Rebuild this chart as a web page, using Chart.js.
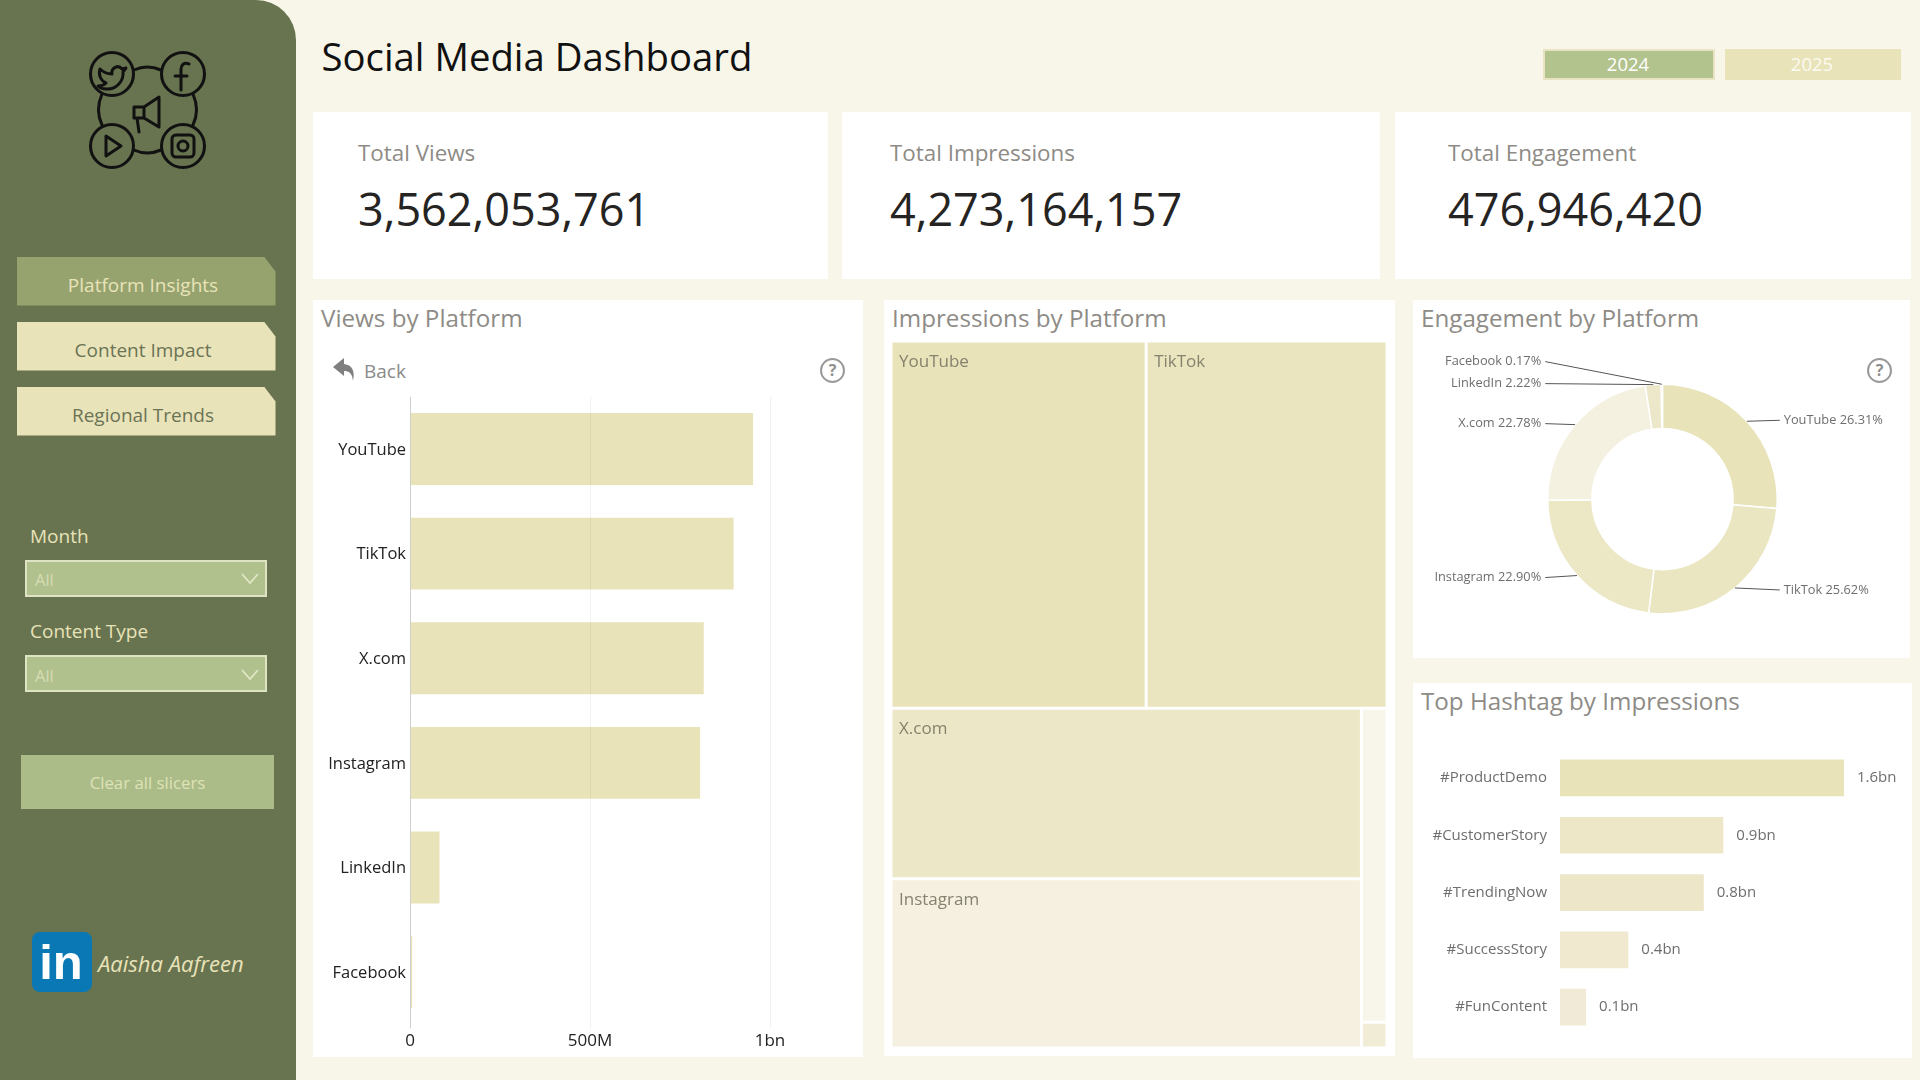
<!DOCTYPE html>
<html><head><meta charset="utf-8">
<script src="https://cdn.jsdelivr.net/npm/chart.js@4"></script>
<style>
html,body{margin:0;padding:0;width:1920px;height:1080px;overflow:hidden;background:#F8F6E9;font-family:"Open Sans",sans-serif}
.a{position:absolute}
.t{position:absolute;white-space:nowrap;line-height:1;transform:translateY(-50%)}
.c{transform:translate(-50%,-50%)}
canvas{position:absolute;display:block}
.card{position:absolute;background:#fff}
.ptitle{color:#8E8B86;font-size:24.2px}
.klabel{color:#8E8B86;font-size:22.4px}
.kval{color:#252423;font-size:45px}
.nav{position:absolute;left:17px;width:258.5px;height:49px;clip-path:polygon(0 0,247px 0,258.5px 15px,258.5px 49px,0 49px)}
.drop{position:absolute;left:25px;width:238px;height:33px;background:#B1C18D;border:2.5px solid #DDE3C3}
.q{position:absolute;width:21px;height:21px;border:2.5px solid #9a9a9a;border-radius:50%;color:#8f8f8f;font-size:16px;font-weight:700;text-align:center;line-height:21px}
</style></head><body>

<div class="a" style="left:0;top:0;width:296px;height:1080px;background:#68734F;border-top-right-radius:40px"></div>

<svg class="a" style="left:80px;top:45px" width="135" height="135" viewBox="0 0 135 135" fill="none" stroke="#111" stroke-width="3" stroke-linecap="round" stroke-linejoin="round">
<circle cx="32" cy="29" r="21.5"/><circle cx="103" cy="29" r="21.5"/><circle cx="32" cy="101" r="21.5"/><circle cx="103" cy="101" r="21.5"/>
<path d="M54 25Q67 19 81 25M54 105Q67 111 81 105M22 49Q15 65 22 80M113 49Q120 65 113 80"/>
<path d="M20 24c3 3 7 5 12 5c-1-6 6-10 10-5l4-1l-3 4c1 9-7 18-17 17c-3 0-6-1-8-3c3 0 6-1 8-3c-5-2-8-8-6-14z"/>
<path d="M109 19c-5-2-8 1-8 5v21M95 31h12"/>
<path d="M26 91l15 10l-15 10z"/>
<rect x="92" y="90" width="22" height="22" rx="4"/><circle cx="103" cy="101" r="5"/>
<path d="M54 62h10l15-10v30l-15-9h-10zM64 62v11M57 73l2 14"/>
</svg>

<div class="nav" style="top:256.5px;background:#96A36F"></div>
<div class="t c" style="left:143px;top:285px;font-size:19px;color:#E9E3B9">Platform Insights</div>
<div class="nav" style="top:321.5px;background:#E9E3B9"></div>
<div class="t c" style="left:143px;top:350px;font-size:19px;color:#6B7355">Content Impact</div>
<div class="nav" style="top:386.5px;background:#E9E3B9"></div>
<div class="t c" style="left:143px;top:415px;font-size:19px;color:#6B7355">Regional Trends</div>

<div class="t" style="left:30px;top:536px;font-size:19px;color:#E9E3B9">Month</div>
<div class="drop" style="top:559.5px"></div>
<div class="t" style="left:35px;top:580px;font-size:16.5px;color:#D6DCB4">All</div>
<svg class="a" style="left:241px;top:573px" width="18" height="12" fill="none" stroke="#E3E8C9" stroke-width="1.6"><path d="M1 1l8 9l8-9"/></svg>

<div class="t" style="left:30px;top:631px;font-size:19px;color:#E9E3B9">Content Type</div>
<div class="drop" style="top:655px"></div>
<div class="t" style="left:35px;top:676px;font-size:16.5px;color:#D6DCB4">All</div>
<svg class="a" style="left:241px;top:669px" width="18" height="12" fill="none" stroke="#E3E8C9" stroke-width="1.6"><path d="M1 1l8 9l8-9"/></svg>

<div class="a" style="left:21px;top:755px;width:253px;height:53.5px;background:#ACBC88"></div>
<div class="t c" style="left:147.5px;top:783px;font-size:16.8px;color:#DDE2B8">Clear all slicers</div>

<div class="a" style="left:32px;top:932px;width:60px;height:60px;background:#0A78B5;border-radius:8px"></div>
<div class="t c" style="left:61px;top:962px;font-size:49px;font-weight:700;color:#fff;font-family:'Liberation Sans',sans-serif">in</div>
<div class="t" style="left:98px;top:963px;font-size:22px;font-style:italic;color:#E9E3B9">Aaisha Aafreen</div>

<div class="t" style="left:321.5px;top:56px;font-size:38.3px;color:#111">Social Media Dashboard</div>

<div class="a" style="left:1543px;top:49px;width:168px;height:27px;background:#B3C38E;border:2px solid #E9E3C4"></div>
<div class="t c" style="left:1628px;top:63.5px;font-size:18.5px;color:#fff">2024</div>
<div class="a" style="left:1725px;top:49px;width:176px;height:31px;background:#E9E3B9"></div>
<div class="t c" style="left:1812px;top:63.5px;font-size:18.5px;color:#FCFBF2">2025</div>

<div class="card" style="left:313px;top:112px;width:515px;height:167px"></div>
<div class="t klabel" style="left:358px;top:153px">Total Views</div>
<div class="t kval" style="left:358px;top:208px">3,562,053,761</div>
<div class="card" style="left:842px;top:112px;width:538px;height:167px"></div>
<div class="t klabel" style="left:890px;top:153px">Total Impressions</div>
<div class="t kval" style="left:890px;top:208px">4,273,164,157</div>
<div class="card" style="left:1395px;top:112px;width:516px;height:167px"></div>
<div class="t klabel" style="left:1448px;top:153px">Total Engagement</div>
<div class="t kval" style="left:1448px;top:208px">476,946,420</div>

<div class="card" style="left:313px;top:300px;width:550px;height:757px"></div>
<div class="card" style="left:884px;top:300px;width:511px;height:756px"></div>
<div class="card" style="left:1413px;top:300px;width:497px;height:358px"></div>
<div class="card" style="left:1413px;top:683px;width:499px;height:375px"></div>

<div class="t ptitle" style="left:321px;top:318px">Views by Platform</div>
<div class="t ptitle" style="left:892px;top:318px">Impressions by Platform</div>
<div class="t ptitle" style="left:1421px;top:318px">Engagement by Platform</div>
<div class="t ptitle" style="left:1421px;top:701px">Top Hashtag by Impressions</div>

<svg class="a" style="left:333px;top:358px" width="24" height="24" fill="#7f7f7f"><path d="M11 0L0 9l11 9v-5c5 0 8 2 9 10c2-9 0-16-9-17z"/></svg>
<div class="t" style="left:364px;top:370.5px;font-size:19px;color:#8a8a8a">Back</div>
<div class="q" style="left:820px;top:358px">?</div>
<div class="q" style="left:1867px;top:358px">?</div>

<canvas id="viewsChart" width="560" height="676" style="left:313px;top:380px"></canvas>
<canvas id="impressionsChart" width="496" height="707" style="left:891px;top:341px"></canvas>
<canvas id="engagementChart" width="495" height="300" style="left:1415px;top:348.5px"></canvas>
<canvas id="hashtagChart" width="507" height="326" style="left:1413px;top:730px"></canvas>

<script>
const FONT = '"Open Sans", sans-serif';

const viewPlatforms = ['YouTube','TikTok','X.com','Instagram','LinkedIn','Facebook'];
const viewValues = [953000000, 899000000, 816000000, 806000000, 82000000, 6000000];
const viewTicks = [0, 500000000, 1000000000];
const viewTickLabels = ['0','500M','1bn'];

const impressionPlatforms = ['YouTube','TikTok','X.com','Instagram','LinkedIn','Facebook'];
const impressionValues = [1142000000, 1078000000, 977000000, 970000000, 98000000, 8000000];
const impressionColors = ['#E9E3B9','#EAE5BE','#ECE7C6','#F5F0DF','#F8F6EA','#F1ECD6'];
const impressionLabelled = ['YouTube','TikTok','X.com','Instagram'];

const engagementPlatforms = ['YouTube','TikTok','Instagram','X.com','LinkedIn','Facebook'];
const engagementShares = [26.31, 25.62, 22.90, 22.78, 2.22, 0.17];
const engagementColors = ['#E9E3B9','#EBE6C2','#ECE7C5','#F4F1E0','#EBE7C8','#F8F6EA'];

const hashtagLabels = ['#ProductDemo','#CustomerStory','#TrendingNow','#SuccessStory','#FunContent'];
const hashtagValues = [1600000000, 920000000, 810000000, 385000000, 147000000];
const hashtagColors = ['#E9E3B9','#EDE7C8','#EEE6C9','#F0E9D0','#F0EAD6'];

Chart.defaults.font.family = FONT;
Chart.defaults.animation = false;
Chart.defaults.responsive = false;
Chart.defaults.devicePixelRatio = 1;
Chart.defaults.plugins.legend.display = false;
Chart.defaults.plugins.tooltip.enabled = false;

/* Views by Platform */
new Chart(document.getElementById('viewsChart'), {
  type: 'bar',
  data: { labels: viewPlatforms, datasets: [{ data: viewValues, backgroundColor: '#E9E3B9', barPercentage: 0.687, categoryPercentage: 1 }] },
  options: {
    indexAxis: 'y',
    layout: { padding: { top: 16.7, right: 13, left: 0, bottom: 0 } },
    scales: {
      x: {
        min: 0, max: 1250000000,
        afterBuildTicks: s => { s.ticks = viewTicks.map(v => ({ value: v })); },
        afterFit: s => { s.height = 31.5; },
        border: { display: false },
        grid: { color: ctx => ctx.index === 0 ? '#cfcfcf' : 'rgba(0,0,0,0.05)', z: 1, tickLength: 4, drawTicks: true },
        ticks: {
          color: '#222', font: { size: 17 }, padding: 2, maxRotation: 0, autoSkip: false,
          callback: (v, i) => viewTickLabels[i]
        }
      },
      y: {
        afterFit: s => { s.width = 97; },
        border: { display: false },
        grid: { display: false, drawTicks: false },
        ticks: { color: '#222', font: { size: 16.5 }, padding: 4, labelOffset: 1 }
      }
    }
  }
});

/* Impressions by Platform: treemap controller built on Chart.js' own bar element */
class TreemapController extends Chart.DatasetController {
  static id = 'treemap';
  static defaults = { dataElementType: 'bar', datasetElementType: null };
  update() {
    const meta = this._cachedMeta;
    this.updateElements(meta.data, 0, meta.data.length, 'none');
  }
  updateElements(rects, start, count, mode) {
    const meta = this._cachedMeta, xs = meta.xScale, ys = meta.yScale;
    const boxes = treemapBoxes(this.getDataset().data);
    for (let i = start; i < start + count; i++) {
      const b = boxes[i];
      const left = xs.getPixelForValue(b.x0), right = xs.getPixelForValue(b.x1);
      const top = ys.getPixelForValue(b.y0), bottom = ys.getPixelForValue(b.y1);
      this.updateElement(rects[i], i, {
        x: (left + right) / 2, y: top, base: bottom, width: right - left, height: bottom - top,
        horizontal: false, borderSkipped: {}, enableBorderRadius: false, inflateAmount: 0,
        options: this.resolveDataElementOptions(i, mode)
      }, mode);
    }
  }
}
Chart.register(TreemapController);

function treemapBoxes(v) {
  const total = v.reduce((a, b) => a + b, 0);
  const top = v[0] + v[1], rest = total - top;
  const yTop = top / total;
  const midX = v[0] / top;
  const leftCol = v[2] + v[3], rightCol = v[4] + v[5];
  const colX = leftCol / rest;
  const spanY = 1 - yTop;
  const y2 = yTop + spanY * v[2] / leftCol;
  const y4 = yTop + spanY * v[4] / rightCol;
  return [
    { x0: 0, x1: midX, y0: 0, y1: yTop },
    { x0: midX, x1: 1, y0: 0, y1: yTop },
    { x0: 0, x1: colX, y0: yTop, y1: y2 },
    { x0: 0, x1: colX, y0: y2, y1: 1 },
    { x0: colX, x1: 1, y0: yTop, y1: y4 },
    { x0: colX, x1: 1, y0: y4, y1: 1 }
  ];
}

new Chart(document.getElementById('impressionsChart'), {
  type: 'treemap',
  data: { labels: impressionPlatforms, datasets: [{ data: impressionValues, backgroundColor: impressionColors, borderColor: '#fff', borderWidth: 1.5 }] },
  options: {
    layout: { padding: 0 },
    scales: {
      x: { type: 'linear', min: 0, max: 1, display: false },
      y: { type: 'linear', min: 0, max: 1, reverse: true, display: false }
    }
  },
  plugins: [{
    id: 'treeLabels',
    afterDatasetsDraw(chart) {
      const { ctx } = chart;
      ctx.save();
      ctx.font = '17px ' + FONT; ctx.fillStyle = '#85826F'; ctx.textAlign = 'left'; ctx.textBaseline = 'middle';
      chart.getDatasetMeta(0).data.forEach((el, i) => {
        const name = impressionPlatforms[i];
        if (impressionLabelled.includes(name)) ctx.fillText(name, el.x - el.width / 2 + 8, el.y + 21);
      });
      ctx.restore();
    }
  }]
});

/* Engagement by Platform */
new Chart(document.getElementById('engagementChart'), {
  type: 'doughnut',
  data: { labels: engagementPlatforms, datasets: [{ data: engagementShares, backgroundColor: engagementColors, borderColor: '#fff', borderWidth: 1.5 }] },
  options: {
    cutout: '61.5%',
    layout: { padding: { top: 34.5, bottom: 34.5, left: 132, right: 132 } }
  },
  plugins: [{
    id: 'leaderLabels',
    afterDatasetsDraw(chart) {
      const { ctx } = chart;
      const arcs = chart.getDatasetMeta(0).data;
      const items = arcs.map((a, i) => {
        const mid = (a.startAngle + a.endAngle) / 2;
        const ex = a.x + Math.cos(mid) * a.outerRadius, ey = a.y + Math.sin(mid) * a.outerRadius;
        const bend = ey > a.y ? 2 : -1;
        return { i, ex, ey, bend, right: Math.cos(mid) > 0 && i < 3, cx: a.x, r: a.outerRadius };
      });
      const left = items.filter(o => !o.right).sort((p, q) => q.ey - p.ey || p.i - q.i);
      let prev = Infinity;
      left.forEach(o => { o.ly = Math.min(o.ey + o.bend, prev - 22); prev = o.ly; });
      items.filter(o => o.right).forEach(o => { o.ly = o.ey + o.bend; });
      ctx.save();
      ctx.font = '12.8px ' + FONT; ctx.textBaseline = 'middle';
      items.forEach(o => {
        const sign = o.right ? 1 : -1;
        const lx = o.cx + sign * (o.r + 2.5);
        ctx.strokeStyle = '#555'; ctx.lineWidth = 1;
        ctx.beginPath(); ctx.moveTo(o.ex, o.ey); ctx.lineTo(lx, o.ly); ctx.stroke();
        ctx.fillStyle = '#6E6E6E'; ctx.textAlign = o.right ? 'left' : 'right';
        ctx.fillText(engagementPlatforms[o.i] + ' ' + engagementShares[o.i].toFixed(2) + '%', lx + sign * 4, o.ly);
      });
      ctx.restore();
    }
  }]
});

/* Top Hashtag by Impressions */
new Chart(document.getElementById('hashtagChart'), {
  type: 'bar',
  data: { labels: hashtagLabels, datasets: [{ data: hashtagValues, backgroundColor: hashtagColors, barPercentage: 0.64, categoryPercentage: 1 }] },
  options: {
    indexAxis: 'y',
    layout: { padding: { top: 19.3, bottom: 20.2, right: 5, left: 0 } },
    scales: {
      x: { display: false, min: 0, max: 2000000000 },
      y: {
        afterFit: s => { s.width = 147; s.paddingTop = 0; s.paddingBottom = 0; },
        border: { display: false },
        grid: { display: false, drawTicks: false },
        ticks: { color: '#6E6E6E', font: { size: 15 }, padding: 13 }
      }
    }
  },
  plugins: [{
    id: 'valueLabels',
    afterDatasetsDraw(chart) {
      const { ctx } = chart;
      ctx.save();
      ctx.font = '15px ' + FONT; ctx.fillStyle = '#6E6E6E'; ctx.textAlign = 'left'; ctx.textBaseline = 'middle';
      chart.getDatasetMeta(0).data.forEach((el, i) => {
        ctx.fillText((hashtagValues[i] / 1e9).toFixed(1) + 'bn', el.x + 13, el.y);
      });
      ctx.restore();
    }
  }]
});
</script>
</body></html>
